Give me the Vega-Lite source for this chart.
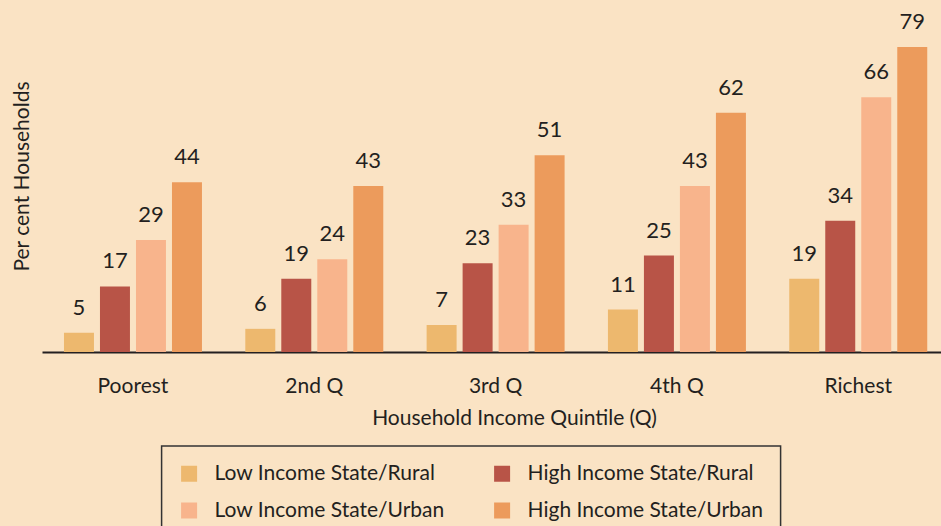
{
  "$schema": "https://vega.github.io/schema/vega-lite/v6.json",
  "width": 899,
  "height": 352,
  "autosize": {"type": "none"},
  "padding": {"left": 42, "top": 0, "right": 0, "bottom": 174},
  "background": "#FAE3C4",
  "config": {
    "view": {"stroke": null},
    "font": "Lato",
    "text": {"font": "Lato"}
  },
  "data": {
    "values": [
      {"quintile": "Poorest", "group": "Low Income State/Rural", "value": 5},
      {"quintile": "Poorest", "group": "High Income State/Rural", "value": 17},
      {"quintile": "Poorest", "group": "Low Income State/Urban", "value": 29},
      {"quintile": "Poorest", "group": "High Income State/Urban", "value": 44},
      {"quintile": "2nd Q", "group": "Low Income State/Rural", "value": 6},
      {"quintile": "2nd Q", "group": "High Income State/Rural", "value": 19},
      {"quintile": "2nd Q", "group": "Low Income State/Urban", "value": 24},
      {"quintile": "2nd Q", "group": "High Income State/Urban", "value": 43},
      {"quintile": "3rd Q", "group": "Low Income State/Rural", "value": 7},
      {"quintile": "3rd Q", "group": "High Income State/Rural", "value": 23},
      {"quintile": "3rd Q", "group": "Low Income State/Urban", "value": 33},
      {"quintile": "3rd Q", "group": "High Income State/Urban", "value": 51},
      {"quintile": "4th Q", "group": "Low Income State/Rural", "value": 11},
      {"quintile": "4th Q", "group": "High Income State/Rural", "value": 25},
      {"quintile": "4th Q", "group": "Low Income State/Urban", "value": 43},
      {"quintile": "4th Q", "group": "High Income State/Urban", "value": 62},
      {"quintile": "Richest", "group": "Low Income State/Rural", "value": 19},
      {"quintile": "Richest", "group": "High Income State/Rural", "value": 34},
      {"quintile": "Richest", "group": "Low Income State/Urban", "value": 66},
      {"quintile": "Richest", "group": "High Income State/Urban", "value": 79}
    ]
  },
  "encoding": {
    "x": {
      "field": "quintile",
      "type": "nominal",
      "sort": ["Poorest", "2nd Q", "3rd Q", "4th Q", "Richest"],
      "scale": {"paddingInner": 0.239, "paddingOuter": 0.0985, "align": 0.615},
      "axis": {
        "title": "Household Income Quintile (Q)",
        "titleFont": "Lato",
        "titleFontSize": 21,
        "titleFontWeight": "normal",
        "titleColor": "#231F20",
        "titleX": 472,
        "titleY": 72,
        "titleBaseline": "alphabetic",
        "labelAngle": 0,
        "labelFont": "Lato",
        "labelFontSize": 21,
        "labelColor": "#231F20",
        "labelPadding": 23,
        "ticks": false,
        "tickSize": 0,
        "domainColor": "#231F20",
        "domainWidth": 2,
        "grid": false
      }
    },
    "xOffset": {
      "field": "group",
      "type": "nominal",
      "sort": ["Low Income State/Rural", "High Income State/Rural", "Low Income State/Urban", "High Income State/Urban"],
      "scale": {"paddingInner": 0.167, "paddingOuter": 0}
    },
    "y": {
      "field": "value",
      "type": "quantitative",
      "scale": {"domain": [0, 91.2], "nice": false, "zero": true},
      "axis": {
        "title": "Per cent Households",
        "titleFont": "Lato",
        "titleFontSize": 21,
        "titleFontWeight": "normal",
        "titleColor": "#231F20",
        "titlePadding": 10,
        "labels": false,
        "ticks": false,
        "domain": false,
        "grid": false
      }
    }
  },
  "layer": [
    {
      "mark": {"type": "bar"},
      "encoding": {
        "color": {
          "field": "group",
          "type": "nominal",
          "sort": ["Low Income State/Rural", "High Income State/Rural", "Low Income State/Urban", "High Income State/Urban"],
          "scale": {
            "domain": ["Low Income State/Rural", "High Income State/Rural", "Low Income State/Urban", "High Income State/Urban"],
            "range": ["#EDB86E", "#B85447", "#F8B48C", "#EC9B5C"]
          },
          "legend": {
            "title": null,
            "orient": "none",
            "legendX": 119.6,
            "legendY": 446,
            "columns": 2,
            "direction": "horizontal",
            "symbolType": "square",
            "symbolSize": 256,
            "symbolStrokeWidth": 0,
            "labelFont": "Lato",
            "labelFontSize": 21,
            "labelColor": "#231F20",
            "labelOffset": 15,
            "labelLimit": 400,
            "columnPadding": 46,
            "rowPadding": 15,
            "padding": 17,
            "strokeColor": "#333333",
            "encode": {"legend": {"update": {"strokeWidth": {"value": 1.5}}}}
          }
        }
      }
    },
    {
      "mark": {"type": "text", "baseline": "alphabetic", "dy": -18, "fontSize": 22, "font": "Lato", "color": "#231F20"},
      "encoding": {
        "text": {"field": "value", "type": "quantitative"}
      }
    }
  ]
}
